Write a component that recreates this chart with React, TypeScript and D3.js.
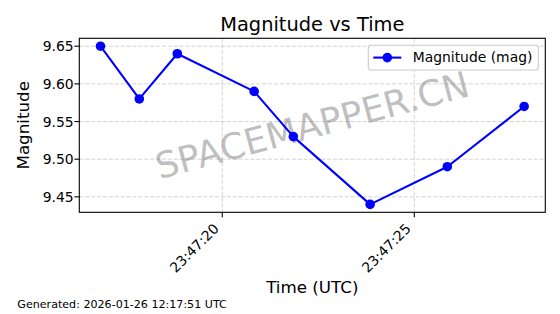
import React from "react";
import * as d3 from "d3";

const times: string[] = [
  "2026-01-25T23:47:16.83Z",
  "2026-01-25T23:47:17.84Z",
  "2026-01-25T23:47:18.83Z",
  "2026-01-25T23:47:20.83Z",
  "2026-01-25T23:47:21.85Z",
  "2026-01-25T23:47:23.85Z",
  "2026-01-25T23:47:25.86Z",
  "2026-01-25T23:47:27.86Z",
];
const magnitudes: number[] = [9.65, 9.58, 9.64, 9.59, 9.53, 9.44, 9.49, 9.57];
const yTicks: number[] = [9.45, 9.5, 9.55, 9.6, 9.65];
const title = "Magnitude vs Time";
const xLabel = "Time (UTC)";
const yLabel = "Magnitude";
const legendLabel = "Magnitude (mag)";
const watermark = "SPACEMAPPER.CN";
const footer = "Generated: 2026-01-26 12:17:51 UTC";

const W = 560;
const H = 314;
const left = 79.3;
const right = 545.3;
const top = 38.3;
const bottom = 212.3;
const FONT = "DejaVu Sans, sans-serif";

export default function App() {
  const dates = times.map((t) => new Date(t));
  const [t0, t1] = d3.extent(dates) as [Date, Date];
  const span = +t1 - +t0;
  const x = d3
    .scaleUtc()
    .domain([new Date(+t0 - span * 0.05), new Date(+t1 + span * 0.05)])
    .range([left, right]);
  const [m0, m1] = d3.extent(magnitudes) as [number, number];
  const mspan = m1 - m0;
  const y = d3
    .scaleLinear()
    .domain([m0 - mspan * 0.05, m1 + mspan * 0.05])
    .range([bottom, top]);

  const xTicks = x.ticks(d3.utcSecond.every(5)!);
  const fmt = d3.utcFormat("%H:%M:%S");
  const pts = dates.map((d, i) => [x(d), y(magnitudes[i])] as [number, number]);
  const line = d3.line()(pts) || "";
  const cx = (left + right) / 2;
  const cy = (top + bottom) / 2;
  const gridStyle = { stroke: "#b0b0b0", strokeOpacity: 0.7, strokeWidth: 0.8, strokeDasharray: "4.1,1.8" };

  return (
    <svg width={W} height={H} style={{ position: "absolute", left: 0, top: 0, background: "#fff" }} fontFamily={FONT}>
      <rect x={0} y={0} width={W} height={H} fill="#fff" />
      {/* grid */}
      {xTicks.map((t, i) => (
        <line key={"gx" + i} x1={x(t)} x2={x(t)} y1={top} y2={bottom} {...gridStyle} />
      ))}
      {yTicks.map((v, i) => (
        <line key={"gy" + i} x1={left} x2={right} y1={y(v)} y2={y(v)} {...gridStyle} />
      ))}
      {/* watermark */}
      <text
        x={cx}
        y={cy}
        transform={`rotate(-15 ${cx} ${cy})`}
        textAnchor="middle"
        dominantBaseline="central"
        fontSize={36}
        fill="gray"
        fillOpacity={0.5}
      >
        {watermark}
      </text>
      {/* data */}
      <path d={line} fill="none" stroke="#0000ff" strokeWidth={2.1} strokeLinejoin="round" />
      {pts.map((p, i) => (
        <circle key={"p" + i} cx={p[0]} cy={p[1]} r={4.8} fill="#0000ff" />
      ))}
      {/* frame */}
      <rect x={left} y={top} width={right - left} height={bottom - top} fill="none" stroke="#000" strokeWidth={1.1} />
      {/* x ticks */}
      {xTicks.map((t, i) => {
        const tx = x(t);
        const px = tx - 2.5;
        const py = 229.5;
        return (
          <g key={"xt" + i}>
            <line x1={tx} x2={tx} y1={bottom} y2={bottom + 4.9} stroke="#000" strokeWidth={1.1} />
            <text
              x={px}
              y={py}
              transform={`rotate(-45 ${px} ${py})`}
              textAnchor="end"
              fontSize={13.9}
              fill="#000"
            >
              {fmt(t)}
            </text>
          </g>
        );
      })}
      {/* y ticks */}
      {yTicks.map((v, i) => (
        <g key={"yt" + i}>
          <line x1={left - 4.9} x2={left} y1={y(v)} y2={y(v)} stroke="#000" strokeWidth={1.1} />
          <text x={73.6} y={y(v)} dy="0.36em" textAnchor="end" fontSize={13.9} fill="#000">
            {v.toFixed(2)}
          </text>
        </g>
      ))}
      {/* title and labels */}
      <text x={cx} y={30.5} textAnchor="middle" fontSize={19.4} fill="#000">
        {title}
      </text>
      <text x={cx} y={293.3} textAnchor="middle" fontSize={16.7} fill="#000">
        {xLabel}
      </text>
      <text
        x={29.5}
        y={cy}
        transform={`rotate(-90 29.5 ${cy})`}
        textAnchor="middle"
        fontSize={16.7}
        fill="#000"
      >
        {yLabel}
      </text>
      {/* legend */}
      <g>
        <rect x={368.3} y={45.3} width={170} height={24.7} rx={2.8} fill="#fff" fillOpacity={0.8} stroke="#cccccc" strokeWidth={1.1} />
        <line x1={373.3} x2={401.3} y1={57.6} y2={57.6} stroke="#0000ff" strokeWidth={2.1} />
        <circle cx={387.3} cy={57.6} r={4.8} fill="#0000ff" />
        <text x={412.7} y={62.4} fontSize={13.9} fill="#000">
          {legendLabel}
        </text>
      </g>
      {/* footer */}
      <text x={17.3} y={308.2} fontSize={11.1} fill="#000">
        {footer}
      </text>
    </svg>
  );
}
